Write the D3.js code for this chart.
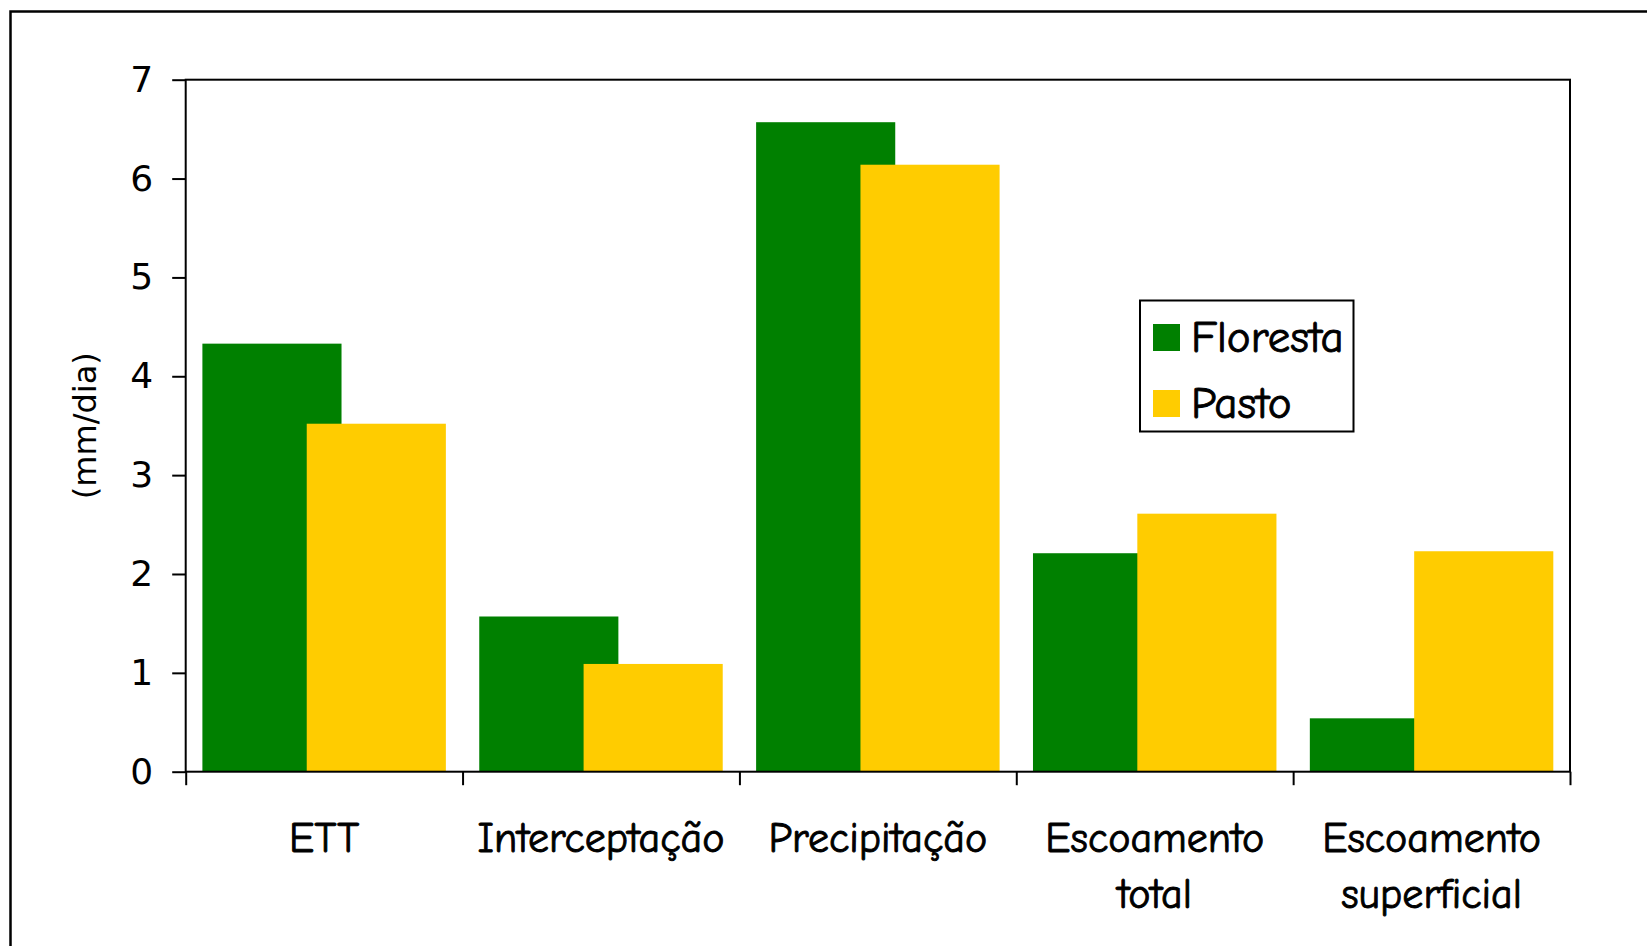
<!DOCTYPE html>
<html lang="pt">
<head>
<meta charset="utf-8">
<title>Floresta x Pasto (mm/dia)</title>
<script src="https://cdn.jsdelivr.net/npm/d3@7"></script>
<style>
  html, body { margin: 0; padding: 0; background: #ffffff; }
  svg { display: block; }
  text { font-family: "Comic Sans MS", "Comic Neue", "DejaVu Sans", sans-serif; fill: #000; }
  .comic { stroke: #000; stroke-width: 0.9px; }
</style>
</head>
<body>
<svg id="chart" width="1647" height="946"></svg>
<script>
// Water balance components, forest vs pasture (mm/day)
const categories = [
  ["ETT"],
  ["Interceptação"],
  ["Precipitação"],
  ["Escoamento", "total"],
  ["Escoamento", "superficial"]
];
const seriesNames = ["Floresta", "Pasto"];
const floresta = [4.33, 1.57, 6.57, 2.21, 0.54];
const pasto    = [3.52, 1.09, 6.14, 2.61, 2.23];
const yTicks   = [0, 1, 2, 3, 4, 5, 6, 7];
const colors   = ["#008000", "#FFCC00"];

const svg = d3.select("#chart");
const W = 1647, H = 946;

// outer chart frame (runs off the right and bottom edges)
svg.append("rect")
  .attr("x", 10.5).attr("y", 11.5)
  .attr("width", W + 20).attr("height", H + 20)
  .attr("fill", "none").attr("stroke", "#000").attr("stroke-width", 2.5);

const plot = { left: 185.7, right: 1570, top: 79.7, bottom: 771.7 };

const x = d3.scaleBand()
  .domain(d3.range(categories.length))
  .range([plot.left, plot.right])
  .paddingInner(0).paddingOuter(0);

const y = d3.scaleLinear()
  .domain([0, 7])
  .range([plot.bottom, plot.top]);

// Excel-style clustered bars: 25% overlap, 24% gap width
const overlap = 0.25, gapWidth = 0.24;
const bw = x.bandwidth();
const barW = bw / (2 - overlap + gapWidth);
const barX = (i, s) => x(i) + gapWidth * barW / 2 + s * barW * (1 - overlap);

const data = [floresta, pasto];
data.forEach((vals, s) => {
  svg.append("g").selectAll("rect")
    .data(vals)
    .join("rect")
    .attr("x", (d, i) => barX(i, s))
    .attr("width", barW)
    .attr("y", d => y(d))
    .attr("height", d => y(0) - y(d))
    .attr("fill", colors[s]);
});

// plot area frame
svg.append("rect")
  .attr("x", plot.left).attr("y", plot.top)
  .attr("width", plot.right - plot.left).attr("height", plot.bottom - plot.top)
  .attr("fill", "none").attr("stroke", "#000").attr("stroke-width", 2);

// y axis
const yAxis = svg.append("g")
  .attr("transform", `translate(${plot.left},0)`)
  .call(d3.axisLeft(y).tickValues(yTicks).tickFormat(d3.format("d")).tickSize(13.5).tickPadding(19));
yAxis.select(".domain").remove();
yAxis.selectAll(".tick line").attr("stroke", "#000").attr("stroke-width", 2);
yAxis.selectAll(".tick text")
  .style("font-family", '"Century Gothic", "DejaVu Sans", sans-serif')
  .style("font-size", "36px");

// x axis: tick marks at category boundaries
const xb = d3.scaleLinear().domain([0, categories.length]).range([plot.left, plot.right]);
const xAxis = svg.append("g")
  .attr("transform", `translate(0,${plot.bottom})`)
  .call(d3.axisBottom(xb).tickValues(d3.range(categories.length + 1)).tickFormat("").tickSize(13.5));
xAxis.select(".domain").remove();
xAxis.selectAll(".tick line").attr("stroke", "#000").attr("stroke-width", 2);

// category labels
svg.append("g").selectAll("text")
  .data(categories)
  .join("text")
  .attr("class", "comic")
  .attr("text-anchor", "middle")
  .style("font-size", "42px")
  .each(function (lines, i) {
    const t = d3.select(this);
    lines.forEach((ln, k) => {
      t.append("tspan")
        .attr("x", x(i) + bw / 2)
        .attr("y", 851.7 + k * 56.3)
        .text(ln);
    });
  });

// y axis title
svg.append("text")
  .attr("transform", `translate(96,${(plot.top + plot.bottom) / 2}) rotate(-90)`)
  .attr("text-anchor", "middle")
  .style("font-family", '"Century Gothic", "DejaVu Sans", sans-serif')
  .style("font-size", "32px")
  .text("(mm/dia)");

// legend
const legend = svg.append("g");
legend.append("rect")
  .attr("x", 1140).attr("y", 300.5)
  .attr("width", 213.5).attr("height", 131)
  .attr("fill", "#fff").attr("stroke", "#000").attr("stroke-width", 2);
seriesNames.forEach((name, s) => {
  const cy = 337.5 + s * 66;
  legend.append("rect")
    .attr("x", 1153).attr("y", cy - 13.5)
    .attr("width", 27).attr("height", 27)
    .attr("fill", colors[s]);
  legend.append("text")
    .attr("class", "comic")
    .attr("x", 1191).attr("y", cy + 14)
    .style("font-size", "45px")
    .text(name);
});
</script>
</body>
</html>
